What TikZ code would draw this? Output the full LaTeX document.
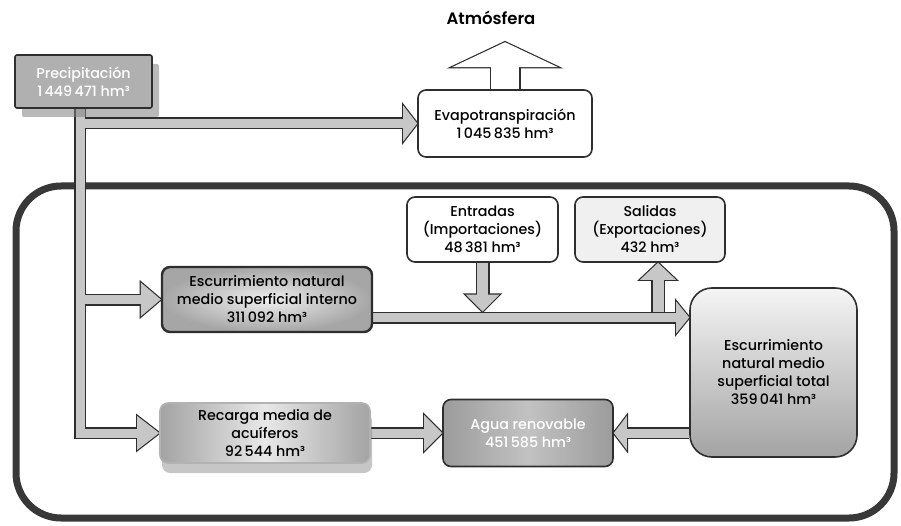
\documentclass[tikz,border=0pt]{standalone}
\usepackage{fontspec}
\setmainfont{Poppins}[UprightFont=* Medium, BoldFont=* SemiBold]
\usetikzlibrary{calc,shadows}
\pgfdeclarelayer{back}
\pgfdeclarelayer{pipes}
\pgfsetlayers{back,pipes,main}
\definecolor{edge}{gray}{0.18}
\definecolor{pipefill}{gray}{0.78}
\newif\ifdarkpass
% #1 start, #2 tip, #3 shaft width, #4 head length, #5 head half width, #6 fill colour
\newcommand\fatarrow[6]{%
  \coordinate (hb) at ($(#2)!#4!(#1)$);
  \ifdarkpass
    \draw[edge, line width=#3+3pt] (#1) -- (hb);
    \filldraw[edge, line width=2.4pt, line join=miter] (#2) -- ($(hb)!#5!90:(#2)$) -- ($(hb)!#5!-90:(#2)$) -- cycle;
  \else
    \draw[#6, line width=#3] (#1) -- ($(hb)!2pt!(#2)$);
    \fill[#6] (#2) -- ($(hb)!#5!90:(#2)$) -- ($(hb)!#5!-90:(#2)$) -- cycle;
  \fi}
\tikzset{
  box/.style={draw=edge, line width=1.6pt, rounded corners=8pt, align=center,
    font=\fontsize{14.3}{18}\selectfont, inner sep=1pt},
}
\begin{document}
\begin{tikzpicture}[x=1pt,y=-1pt]
\useasboundingbox (0,0) rectangle (901,526);
% title
\node[font=\fontsize{16.5}{19}\selectfont\bfseries] (atm) at (491,18) {Atmósfera};
% boxes
\node[box, rounded corners=2pt, fill=gray!62, text=white, minimum width=137pt, minimum height=53pt,
  drop shadow={shadow xshift=7pt, shadow yshift=-9pt, opacity=0.55}] (prec) at (83.5,81.5)
  {Precipitación\\1\,449\,471 hm³};
\node[box, fill=white, minimum width=174pt, minimum height=67pt] (evap) at (505,123.5)
  {Evapotranspiración\\1\,045\,835 hm³};
\node[box, fill=white, minimum width=151pt, minimum height=65pt] (ent) at (482.5,229.5)
  {Entradas\\(Importaciones)\\48\,381 hm³};
\node[box, fill=gray!12, minimum width=150pt, minimum height=65pt] (sal) at (650,229.5)
  {Salidas\\(Exportaciones)\\432 hm³};
\node[box, line width=2.4pt, inner color=gray!12, outer color=gray!70, minimum width=210pt, minimum height=65pt] (int) at (267,299.5)
  {Escurrimiento natural\\medio superficial interno\\311\,092 hm³};
\node[box, rounded corners=22pt, top color=gray!8, bottom color=gray!72, minimum width=167pt, minimum height=169pt] (tot) at (773.5,372.5)
  {Escurrimiento\\natural medio\\superficial total\\359\,041 hm³};
\node[box, draw=gray!60, left color=gray!72, right color=gray!72, middle color=gray!18, minimum width=210pt, minimum height=60pt,
  drop shadow={shadow xshift=2pt, shadow yshift=-10pt, opacity=0.45}] (rec) at (265,433)
  {Recarga media de\\acuíferos\\92\,544 hm³};
\node[box, left color=gray!78, right color=gray!78, middle color=gray!48, text=white, minimum width=170pt, minimum height=67pt] (agua) at (528,433)
  {Agua renovable\\451\,585 hm³};
% system boundary
\begin{pgfonlayer}{back}
\node[draw=black!78, line width=7pt, rounded corners=45pt, minimum width=878pt, minimum height=332pt] (sys) at (455,352) {};
\end{pgfonlayer}
% connector coordinates
\coordinate (trunktop) at ($(prec.south)+(-3.5,0)$);
\coordinate (trunkbot) at (trunktop |- rec.west);
\coordinate (br1) at (trunktop |- evap.west);
\coordinate (br2) at (trunktop |- int.west);
\coordinate (mp1) at ($(int.east)+(0,18)$);
\coordinate (mp2) at (tot.west |- mp1);
\coordinate (en2) at ($(ent.south |- mp1)+(0,-6)$);
\coordinate (sa1) at ($(sal.south |- mp1)+(8,-6)$);
\coordinate (sa2) at (sa1 |- sal.south);
\coordinate (ta1) at (tot.west |- agua.east);
\coordinate (atmtip) at ($(evap.north)+(0,-47)$);
\newcommand\allpipes{%
  \ifdarkpass
    \draw[edge, line width=12pt, line cap=rect] (trunktop) -- (trunkbot);
  \else
    \draw[pipefill, line width=9pt, line cap=rect] (trunktop) -- (trunkbot);
  \fi
  \fatarrow{br1}{evap.west}{9pt}{14pt}{18pt}{pipefill}
  \fatarrow{br2}{int.west}{9pt}{20pt}{17pt}{pipefill}
  \fatarrow{trunkbot}{rec.west}{9pt}{22pt}{17pt}{pipefill}
  \fatarrow{mp1}{mp2}{9pt}{13pt}{16pt}{pipefill}
  \fatarrow{ent.south}{en2}{11pt}{17pt}{17pt}{pipefill}
  \fatarrow{sa1}{sa2}{11pt}{17pt}{18pt}{pipefill}
  \fatarrow{rec.east}{agua.west}{9pt}{18pt}{18pt}{pipefill}
  \fatarrow{ta1}{agua.east}{9pt}{13pt}{17pt}{pipefill}
  \fatarrow{evap.north}{atmtip}{28pt}{25pt}{53pt}{white}
}
\begin{pgfonlayer}{pipes}
\darkpasstrue\allpipes
\darkpassfalse\allpipes
\end{pgfonlayer}
\end{tikzpicture}
\end{document}
